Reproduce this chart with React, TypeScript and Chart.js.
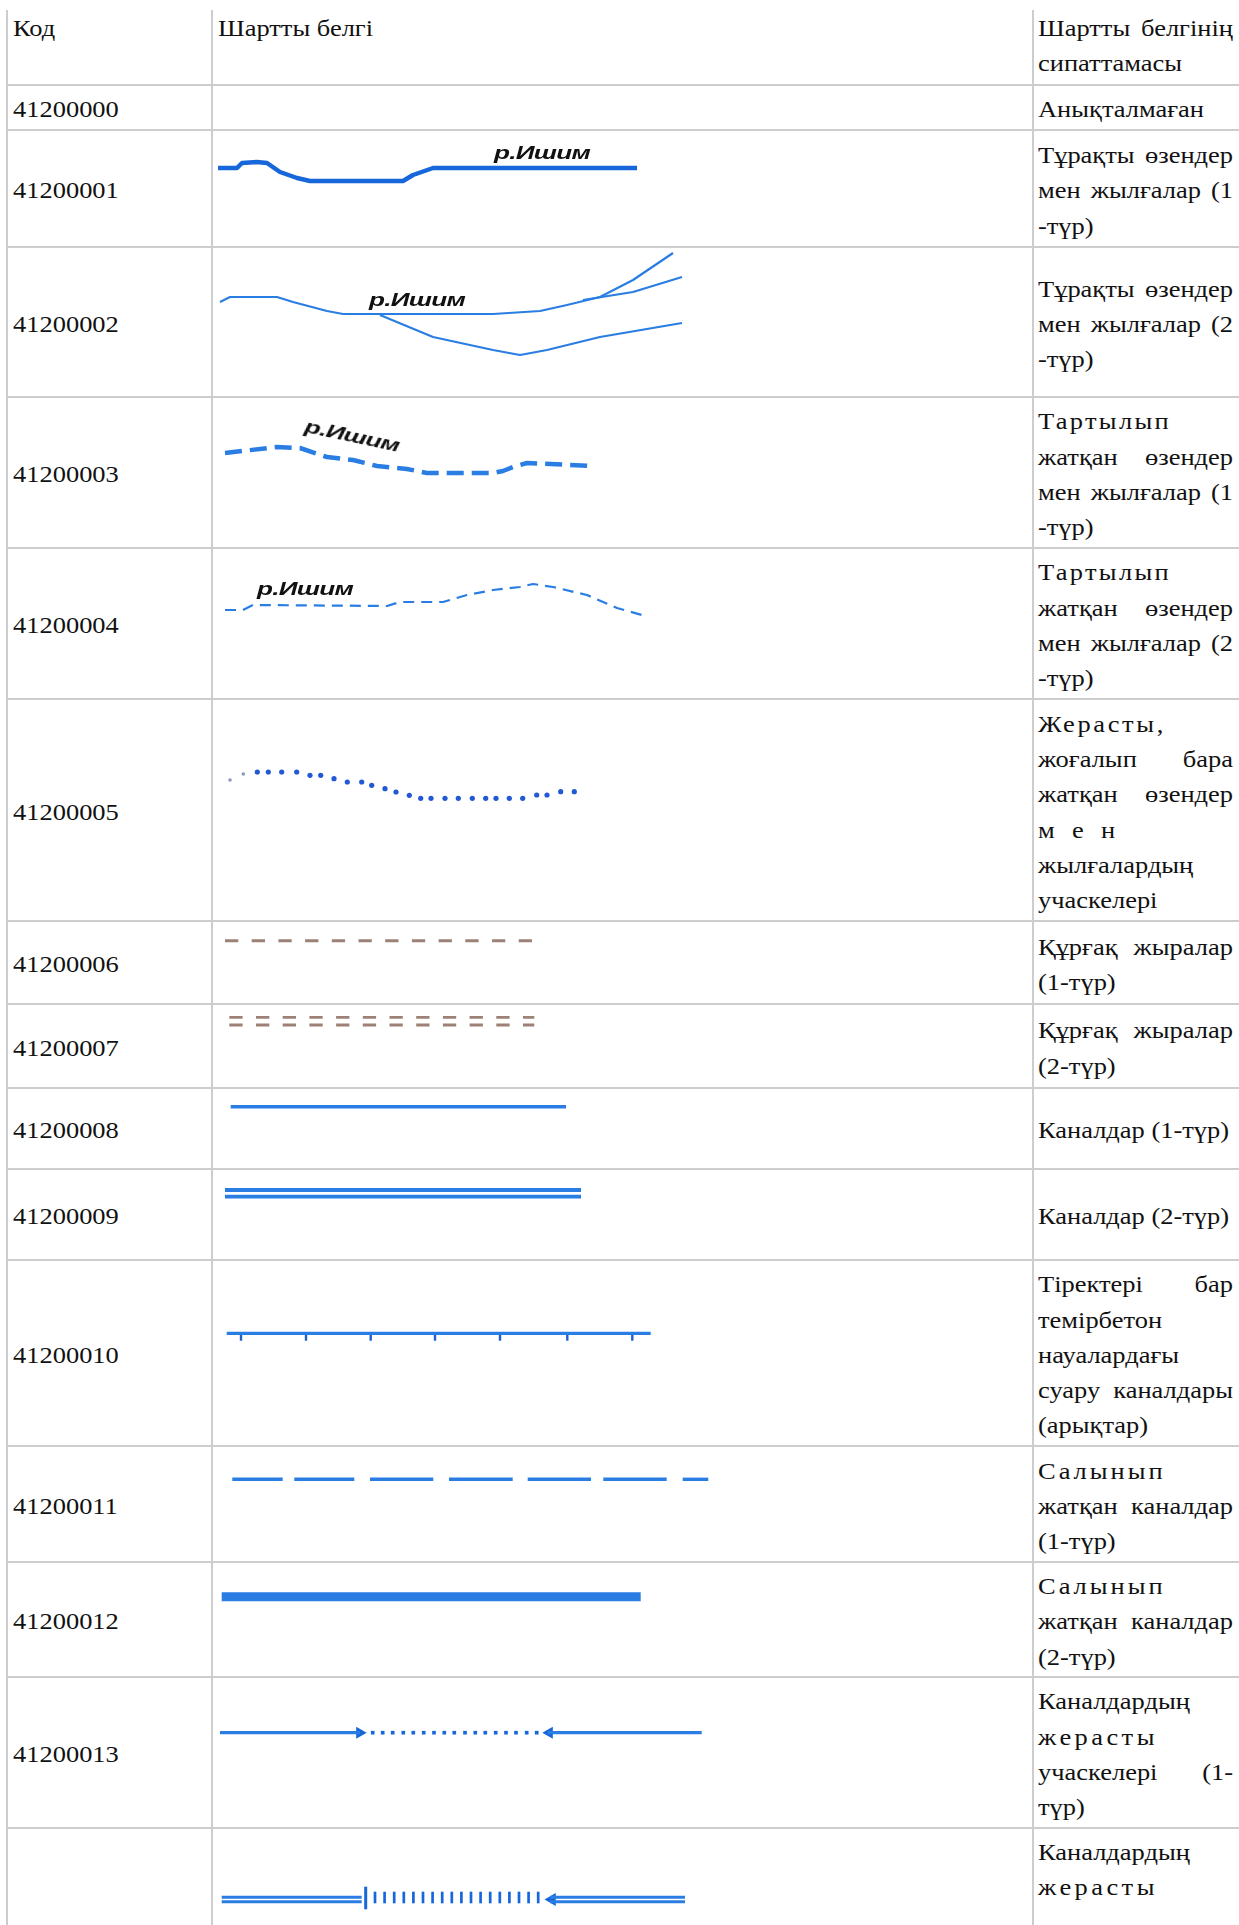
import React, { useEffect, useRef } from "react";
import { Chart, registerables } from "chart.js";

Chart.register(...registerables);

// ---------- table content ----------
const HEADER_CODE = "Код";
const HEADER_SYMBOL = "Шартты белгі";
const HEADER_DESC = ["Шартты белгінің", "сипаттамасы"];

const CODES = [
  "41200000", "41200001", "41200002", "41200003", "41200004", "41200005",
  "41200006", "41200007", "41200008", "41200009", "41200010", "41200011",
  "41200012", "41200013", "",
];

const DESCRIPTIONS: string[][] = [
  ["Анықталмаған"],
  ["Тұрақты өзендер", "мен жылғалар (1", "-түр)"],
  ["Тұрақты өзендер", "мен жылғалар (2", "-түр)"],
  ["Тартылып", "жатқан өзендер", "мен жылғалар (1", "-түр)"],
  ["Тартылып", "жатқан өзендер", "мен жылғалар (2", "-түр)"],
  ["Жерасты,", "жоғалып бара", "жатқан өзендер", "мен", "жылғалардың", "учаскелері"],
  ["Құрғақ жыралар", "(1-түр)"],
  ["Құрғақ жыралар", "(2-түр)"],
  ["Каналдар (1-түр)"],
  ["Каналдар (2-түр)"],
  ["Тіректері бар", "темірбетон", "науалардағы", "суару каналдары", "(арықтар)"],
  ["Салынып", "жатқан каналдар", "(1-түр)"],
  ["Салынып", "жатқан каналдар", "(2-түр)"],
  ["Каналдардың", "жерасты", "учаскелері (1-", "түр)"],
  ["Каналдардың", "жерасты"],
];

const RIVER_LABEL = "р.Ишим";

// ---------- symbol geometry (cell-local units) ----------
const RIVER1 = [[4, 38], [23, 38], [28, 33], [43, 32], [53, 33], [66, 42], [83, 48], [96, 51], [189, 51], [199, 45], [219, 38], [423, 38]];
const RIVER2_MAIN = [[6, 55], [16, 50], [63, 50], [79, 55], [113, 64], [129, 67], [279, 67], [326, 64], [353, 58], [386, 50], [419, 33], [459, 6]];
const RIVER2_UPPER = [[369, 53], [419, 45], [468, 30]];
const RIVER2_LOWER = [[166, 68], [219, 90], [279, 103], [306, 108], [333, 103], [386, 90], [468, 76]];
const DRYING1 = [[11, 56], [63, 50], [86, 51], [113, 60], [139, 63], [163, 69], [193, 72], [213, 76], [279, 76], [289, 74], [299, 70], [313, 66], [381, 69]];
const DRYING2 = [[11, 62], [29, 62], [39, 57], [173, 58], [186, 54], [229, 54], [253, 47], [279, 42], [306, 39], [319, 36], [339, 39], [373, 47], [403, 60], [428, 67]];
const UNDERGROUND_FAINT = [[16, 81], [29.3, 75]];
const UNDERGROUND = [[43.3, 73], [54.3, 73], [67.7, 73], [82.7, 73], [96, 76.3], [106.7, 76.3], [120, 79.7], [133.3, 83], [147.7, 83], [157.7, 86.3], [171, 89.7], [182, 93], [195.3, 96.3], [206.7, 99.3], [217, 99.3], [231, 99.3], [244.3, 99.3], [258.3, 99.3], [271.7, 99.3], [282, 99.3], [295.3, 99.3], [308.7, 99.3], [322.7, 96], [333, 96], [346.7, 92.7], [360.3, 92.7]];
const GULLY1 = [[11, 19.7], [318, 19.7]];
const GULLY2_TOP = [[15.3, 13.3], [320.3, 13.3]];
const GULLY2_BOTTOM = [[15.3, 21], [320.3, 21]];
const CANAL1 = [[16.7, 18.7], [352, 18.7]];
const CANAL2_TOP = [[11, 21], [367, 21]];
const CANAL2_BOTTOM = [[11, 27.7], [367, 27.7]];
const FLUME_LINE = [[12.7, 73.3], [436.7, 73.3]];
const FLUME_POSTS = [[27, 77], [92, 77], [156.7, 77], [221, 77], [286, 77], [353.3, 77], [418.3, 77]];
const BUILD1_Y = 33.3;
const BUILD1_DASHES = [[18.3, 68.7], [80.3, 140.3], [156, 219.3], [235, 298.7], [313.7, 377], [389.3, 452.7], [468.7, 494.3]];
const BUILD2 = [[7.7, 34.7], [426.7, 34.7]];
const UG1_LEFT = [[6, 55.7], [146, 55.7]];
const UG1_RIGHT = [[334, 55.7], [487.7, 55.7]];
const UG1_DOTS = [158.7, 168.7, 178.7, 189.3, 199.3, 209.7, 220, 230.3, 240.3, 251, 261.3, 271.3, 281.7, 292, 302, 312.7, 322.7];
const UG1_ARROW_IN = [[145.7, 55.7]];
const UG1_ARROW_OUT = [[335.3, 55.7]];
const UG2_LEFT_TOP = [[7.7, 69.3], [147.7, 69.3]];
const UG2_LEFT_BOTTOM = [[7.7, 73.7], [147.7, 73.7]];
const UG2_RIGHT_TOP = [[336, 69.3], [471, 69.3]];
const UG2_RIGHT_BOTTOM = [[336, 73.7], [471, 73.7]];
const UG2_BAR = [[151.7, 70]];
const UG2_TICKS = [161, 170.6, 180.2, 189.8, 199.4, 209, 218.6, 228.2, 237.8, 247.4, 257, 266.6, 276.2, 285.8, 295.4, 305, 314.6, 324.2];
const UG2_ARROW = [[338, 71.5]];

// label centres (cell-local) for rows with a river name
const LABELS: Record<number, [number, number, number]> = {
  1: [327.5, 23, 0],
  2: [202.5, 53, 0],
  3: [138, 39, 12],
  4: [91, 41, 0],
};

// ---------- layout ----------
const ROW_Y = [10, 85, 130, 247, 397, 548, 699, 921, 1004, 1088, 1169, 1260, 1446, 1562, 1677, 1828, 2100];
const COL_X = [6, 211, 1032];
const SYM_LEFT = 214;
const SYM_W = 819;
const FONT = '"Liberation Serif", "Times New Roman", serif';
const FONT_SIZE = 23;
const SX = 1.15;
const LINE_H = 35.3;
const DESC_W = 195;
const SPACING: Record<string, number> = { "Тартылып": 2, "Жерасты,": 2.3, "мен": 15, "Салынып": 2.6, "жерасты": 3 };

const BLUE = "#2a7de3";
const BLUE_DARK = "#1766da";
const BROWN = "#9c8276";

const pts = (a: number[][]) => a.map(([x, y]) => ({ x, y }));

function line(a: number[][], color: string, width: number, dash?: number[]) {
  return {
    data: pts(a), showLine: true, borderColor: color, borderWidth: width,
    borderDash: dash || [], pointRadius: 0, pointHoverRadius: 0, fill: false,
    tension: 0, borderCapStyle: "butt", borderJoinStyle: "round", clip: false,
  };
}
function marks(a: number[][], color: string, radius: number, style: string, rotation = 0, border = 0) {
  return {
    data: pts(a), showLine: false, pointRadius: radius, pointHoverRadius: radius,
    pointStyle: style, rotation, backgroundColor: color, borderColor: color,
    pointBackgroundColor: color, pointBorderColor: color, pointBorderWidth: border, clip: false,
  };
}

function datasetsFor(row: number): any[] {
  switch (row) {
    case 1: return [line(RIVER1, BLUE_DARK, 4.5)];
    case 2: return [line(RIVER2_MAIN, BLUE, 2.2), line(RIVER2_UPPER, BLUE, 2.2), line(RIVER2_LOWER, BLUE, 2.2)];
    case 3: return [line(DRYING1, BLUE, 4.5, [17, 8])];
    case 4: return [line(DRYING2, BLUE, 2.2, [11, 7])];
    case 5: return [marks(UNDERGROUND_FAINT, "#8c98c0", 1.8, "circle"), marks(UNDERGROUND, "#2258d4", 2.6, "circle")];
    case 6: return [line(GULLY1, BROWN, 3, [13.3, 13.4])];
    case 7: return [line(GULLY2_TOP, BROWN, 2.8, [13.3, 13.4]), line(GULLY2_BOTTOM, BROWN, 2.8, [13.3, 13.4])];
    case 8: return [line(CANAL1, BLUE, 3.5)];
    case 9: return [line(CANAL2_TOP, BLUE, 3.8), line(CANAL2_BOTTOM, BLUE, 3.8)];
    case 10: return [line(FLUME_LINE, BLUE, 3.2), marks(FLUME_POSTS, "#1f5fc8", 3.7, "line", 90, 2.4)];
    case 11: return BUILD1_DASHES.map(([a, b]) => line([[a, BUILD1_Y], [b, BUILD1_Y]], BLUE, 3.4));
    case 12: return [line(BUILD2, BLUE, 9), line(BUILD2, "#eef4fd", 3)];
    case 13: return [
      line(UG1_LEFT, BLUE, 3.2), line(UG1_RIGHT, BLUE, 3.2),
      marks(UG1_DOTS.map((x) => [x, 55.7]), BLUE_DARK, 2.6, "rect"),
      marks(UG1_ARROW_IN, BLUE_DARK, 7, "triangle", 90),
      marks(UG1_ARROW_OUT, BLUE_DARK, 7, "triangle", -90),
    ];
    case 14: return [
      line(UG2_LEFT_TOP, BLUE, 3), line(UG2_LEFT_BOTTOM, BLUE, 3),
      line(UG2_RIGHT_TOP, BLUE, 3), line(UG2_RIGHT_BOTTOM, BLUE, 3),
      marks(UG2_BAR, BLUE_DARK, 11.3, "line", 90, 3),
      marks(UG2_TICKS.map((x) => [x, 69.5]), BLUE_DARK, 5.8, "line", 90, 2.7),
      marks(UG2_ARROW, BLUE_DARK, 7.5, "triangle", -90),
    ];
    default: return [];
  }
}

function SymbolChart({ row, height }: { row: number; height: number }) {
  const ref = useRef<HTMLCanvasElement>(null);
  useEffect(() => {
    const chart = new Chart(ref.current as HTMLCanvasElement, {
      type: "scatter",
      data: { datasets: datasetsFor(row) as any },
      options: {
        animation: false, responsive: false, devicePixelRatio: 1, events: [],
        layout: { padding: 0, autoPadding: false },
        plugins: { legend: { display: false }, tooltip: { enabled: false } },
        scales: {
          x: { type: "linear", min: 0, max: SYM_W, display: false },
          y: { type: "linear", min: 0, max: height, reverse: true, display: false },
        },
      } as any,
    });
    return () => chart.destroy();
  }, [row, height]);
  return (
    <canvas ref={ref} width={SYM_W} height={height}
      style={{ position: "absolute", left: 0, top: 0, width: SYM_W, height }} />
  );
}

function TextLine({ text, width, justify }: { text: string; width: number; justify: boolean }) {
  return (
    <div style={{
      width: width / SX, height: LINE_H, lineHeight: LINE_H + "px",
      whiteSpace: justify ? "normal" : "nowrap",
      textAlign: justify ? "justify" : "left",
      textAlignLast: justify ? "justify" : "left",
      letterSpacing: SPACING[text] ? SPACING[text] + "px" : undefined,
      transform: `scaleX(${SX})`, transformOrigin: "0 0", overflow: "visible",
    } as React.CSSProperties}>{text}</div>
  );
}

function TextBlock({ lines, left, top, height, width, align }: { lines: string[]; left: number; top: number; height: number; width: number; align: "top" | "middle" }) {
  return (
    <div style={{
      position: "absolute", left, top, height, width, display: "flex", flexDirection: "column",
      justifyContent: align === "top" ? "flex-start" : "center",
    }}>
      <div style={{ paddingTop: align === "top" ? 0 : 5 }}>
        {lines.map((t, i) => (
          <TextLine key={i} text={t} width={width}
            justify={t.includes(" ") && i < lines.length - 1} />
        ))}
      </div>
    </div>
  );
}

function RiverLabel({ row }: { row: number }) {
  const l = LABELS[row];
  if (!l) return null;
  return (
    <div style={{
      position: "absolute", left: l[0], top: l[1],
      transform: `translate(-50%, -50%) rotate(${l[2]}deg) scaleX(1.45)`,
      fontFamily: '"Liberation Sans", Arial, sans-serif', fontStyle: "italic", fontWeight: 700,
      fontSize: 18, lineHeight: "20px", color: "#111", whiteSpace: "nowrap", letterSpacing: "-0.5px",
    }}>{RIVER_LABEL}</div>
  );
}

export default function App() {
  const rows = DESCRIPTIONS.map((d, i) => i);
  const border = "#cdcdcd";
  return (
    <div style={{
      position: "absolute", left: 0, top: 0, width: 1239, height: 1925, overflow: "hidden",
      background: "#fff", fontFamily: FONT, fontSize: FONT_SIZE, color: "#111",
    }}>
      {/* header */}
      <TextBlock lines={[HEADER_CODE]} left={13} top={11} height={70} width={190} align="top" />
      <TextBlock lines={[HEADER_SYMBOL]} left={218} top={11} height={70} width={400} align="top" />
      <TextBlock lines={HEADER_DESC} left={1038} top={11} height={70} width={DESC_W} align="top" />

      {rows.map((i) => {
        const top = ROW_Y[i + 1];
        const h = ROW_Y[i + 2] - top;
        const last = i === rows.length - 1;
        return (
          <React.Fragment key={i}>
            <div style={{ position: "absolute", left: SYM_LEFT, top, width: SYM_W, height: h }}>
              <SymbolChart row={i} height={h} />
              <RiverLabel row={i} />
            </div>
            {CODES[i] ? (
              <TextBlock lines={[CODES[i]]} left={13} top={top + 1} height={h - 2} width={190} align="middle" />
            ) : null}
            <TextBlock lines={DESCRIPTIONS[i]} left={1038} top={last ? top + 7 : top + 1} height={last ? h - 8 : h - 2} width={DESC_W} align={last ? "top" : "middle"} />
          </React.Fragment>
        );
      })}

      {/* grid lines */}
      {COL_X.map((x, i) => (
        <div key={"v" + i} style={{ position: "absolute", left: x, top: 10, width: 2, height: 1915, background: border }} />
      ))}
      {ROW_Y.slice(1, ROW_Y.length - 1).map((y, i) => (
        <div key={"h" + i} style={{ position: "absolute", left: COL_X[0], top: y - 1, width: 1239 - COL_X[0], height: 2, background: border }} />
      ))}
    </div>
  );
}
